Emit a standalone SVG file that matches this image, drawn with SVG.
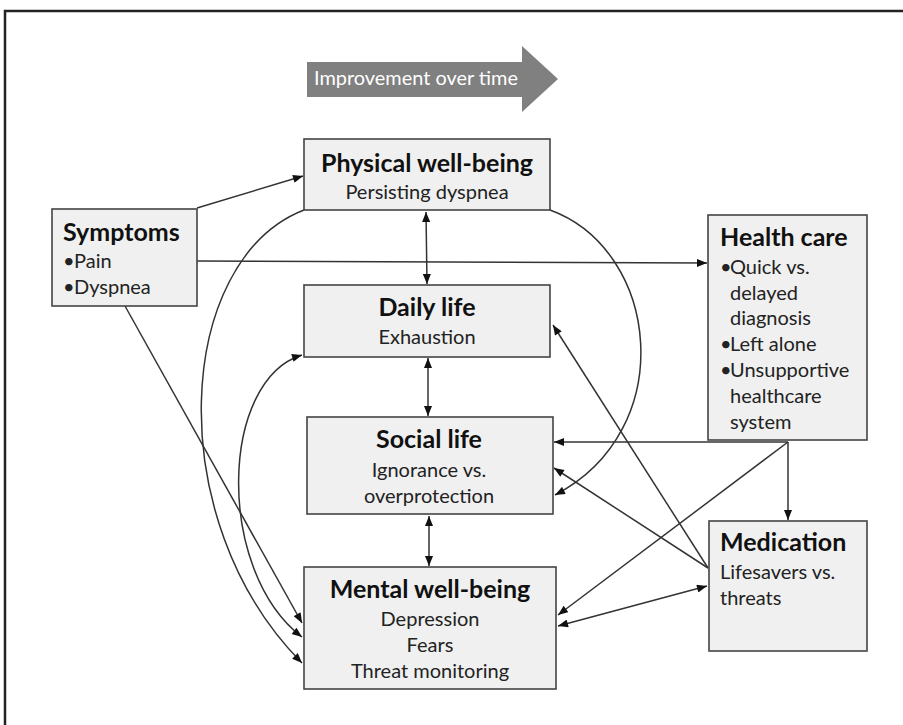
<svg xmlns="http://www.w3.org/2000/svg" width="903" height="725" viewBox="0 0 903 725">
<defs>
<marker id="ah" viewBox="0 0 10 8" refX="10" refY="4" markerWidth="11" markerHeight="8" markerUnits="userSpaceOnUse" orient="auto-start-reverse">
<path d="M0,0 L10,4 L0,8 z" fill="#111"/>
</marker>
<style>
.box{fill:#f0f0f0;stroke:#444;stroke-width:1.6}
.t{font-family:Lato,"Liberation Sans",sans-serif;font-weight:bold;font-size:25px;fill:#111}
.s{font-family:Lato,"Liberation Sans",sans-serif;font-size:20px;fill:#222}
.c{text-anchor:middle}
.ln{fill:none;stroke:#333;stroke-width:1.5}
.a{marker-end:url(#ah)}
.b{marker-start:url(#ah);marker-end:url(#ah)}
</style>
</defs>
<rect width="903" height="725" fill="#fff"/>
<path d="M5,725 L5,11 L903,11" fill="none" stroke="#222" stroke-width="2.5"/>

<g id="improvement">
<path d="M307,62 L522,62 L522,46 L558,79 L522,112 L522,97 L307,97 z" fill="#808080"/>
<text x="314" y="85" font-family="Lato,'Liberation Sans',sans-serif" font-size="20" fill="#fff" textLength="204" lengthAdjust="spacingAndGlyphs">Improvement over time</text>
</g>

<g id="connectors">
<line class="ln a" x1="197" y1="208" x2="303" y2="176"/>
<path class="ln a" d="M197,261 L707,263"/>
<path class="ln a" d="M125,306 L302,623"/>
<path class="ln a" d="M304,210 C175,260 160,520 302,663"/>
<path class="ln b" d="M302,355 C220,380 215,570 302,637"/>
<line class="ln b" x1="426" y1="212" x2="427" y2="284"/>
<line class="ln b" x1="428" y1="358" x2="428" y2="416"/>
<line class="ln b" x1="429" y1="516" x2="429" y2="566"/>
<path class="ln a" d="M550,210 C660,250 680,430 555,495"/>
<line class="ln a" x1="788" y1="442" x2="554" y2="442"/>
<line class="ln a" x1="788" y1="442" x2="788" y2="520"/>
<line class="ln a" x1="788" y1="442" x2="558" y2="615"/>
<line class="ln a" x1="708" y1="568" x2="553" y2="325"/>
<line class="ln a" x1="708" y1="568" x2="554" y2="468"/>
<line class="ln b" x1="558" y1="626" x2="707" y2="586"/>
</g>

<g id="symptoms">
<rect class="box" x="52" y="209" width="145" height="97"/>
<text class="t" x="63" y="241">Symptoms</text>
<text class="s" x="63" y="268">•<tspan x="74">Pain</tspan></text>
<text class="s" x="63" y="294">•<tspan x="74">Dyspnea</tspan></text>
</g>

<g id="physical">
<rect class="box" x="304" y="139" width="246" height="71"/>
<text class="t c" x="427" y="172">Physical well-being</text>
<text class="s c" x="427" y="199">Persisting dyspnea</text>
</g>

<g id="daily">
<rect class="box" x="304" y="285" width="246" height="72"/>
<text class="t c" x="427" y="316">Daily life</text>
<text class="s c" x="427" y="344">Exhaustion</text>
</g>

<g id="social">
<rect class="box" x="307" y="417" width="246" height="97"/>
<text class="t c" x="429" y="448">Social life</text>
<text class="s c" x="429" y="477">Ignorance vs.</text>
<text class="s c" x="429" y="503">overprotection</text>
</g>

<g id="mental">
<rect class="box" x="304" y="567" width="252" height="122"/>
<text class="t c" x="430" y="598">Mental well-being</text>
<text class="s c" x="430" y="626">Depression</text>
<text class="s c" x="430" y="652">Fears</text>
<text class="s c" x="430" y="678">Threat monitoring</text>
</g>

<g id="healthcare">
<rect class="box" x="708" y="215" width="159" height="225"/>
<text class="t" x="720" y="246">Health care</text>
<text class="s" x="720" y="274">•<tspan x="730">Quick vs.</tspan></text>
<text class="s" x="730" y="300">delayed</text>
<text class="s" x="730" y="325">diagnosis</text>
<text class="s" x="720" y="351">•<tspan x="730">Left alone</tspan></text>
<text class="s" x="720" y="377">•<tspan x="730">Unsupportive</tspan></text>
<text class="s" x="730" y="403">healthcare</text>
<text class="s" x="730" y="429">system</text>
</g>

<g id="medication">
<rect class="box" x="709" y="521" width="158" height="130"/>
<text class="t" x="720" y="551">Medication</text>
<text class="s" x="720" y="579">Lifesavers vs.</text>
<text class="s" x="720" y="605">threats</text>
</g>
</svg>
